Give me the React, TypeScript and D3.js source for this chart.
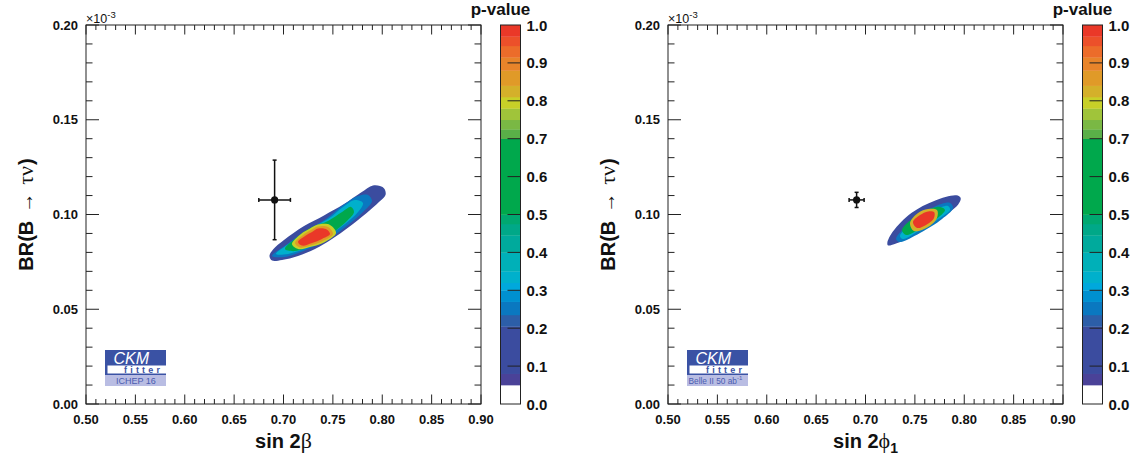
import React from "react";
import * as d3 from "d3";

type Pt = [number, number];

// ---------- axes ----------
const xDomain: [number, number] = [0.5, 0.9];
const yDomain: [number, number] = [0, 0.2];
const zDomain: [number, number] = [0, 1];

// ---------- colour palette (p-value bands) ----------
const bandEdges = [0, 0.05, 0.08, 0.205, 0.235, 0.27, 0.3, 0.32, 0.35, 0.4, 0.445, 0.475, 0.5, 0.7, 0.725, 0.75, 0.78, 0.81, 0.84, 0.88, 0.915, 0.945, 0.97, 1.0];
const bandColors = ["#ffffff", "#4a4298", "#3b4c9f", "#2c5ea8", "#0a78c0", "#0090d0", "#00a8dc", "#00b0cc", "#00b0b8", "#00aa9c", "#00a888", "#00a870", "#00a84c", "#5aaf48", "#7ab844", "#a0c43a", "#c8d028", "#d4b02a", "#e09a28", "#e8842a", "#ec6c2a", "#ec502a", "#ea3828"];

// ---------- left panel contours (sin 2beta, BR x1e-3) ----------
const leftOuter: Pt[] = [[0.7906, 0.1153], [0.7977, 0.115], [0.8023, 0.1135], [0.8033, 0.1103], [0.7967, 0.1066], [0.7836, 0.1005], [0.7663, 0.0934], [0.7491, 0.0871], [0.7319, 0.0818], [0.7147, 0.0781], [0.6985, 0.076], [0.6884, 0.0757], [0.6858, 0.0781], [0.6894, 0.0815], [0.7005, 0.0865], [0.7208, 0.0939], [0.741, 0.0995], [0.7613, 0.1055], [0.7785, 0.1116]];
const leftBlue: Pt[] = [[0.6884, 0.0781], [0.7025, 0.0839], [0.7228, 0.0913], [0.743, 0.0976], [0.7603, 0.105], [0.7755, 0.1098], [0.7856, 0.1103], [0.7896, 0.1071], [0.7805, 0.1013], [0.7653, 0.0945], [0.7471, 0.0876], [0.7248, 0.0818], [0.7015, 0.0776]];
const leftCyan: Pt[] = [[0.6924, 0.0792], [0.7066, 0.085], [0.7248, 0.0918], [0.7451, 0.0976], [0.7603, 0.104], [0.7724, 0.1077], [0.7805, 0.1061], [0.7755, 0.1013], [0.7623, 0.095], [0.7451, 0.0887], [0.7248, 0.0828], [0.7046, 0.0792]];
const leftGreen: Pt[] = [[0.7015, 0.0818], [0.7127, 0.0876], [0.7289, 0.0934], [0.7451, 0.0966], [0.7593, 0.1013], [0.7684, 0.104], [0.7714, 0.1013], [0.7643, 0.0966], [0.7491, 0.0902], [0.7289, 0.0839], [0.7117, 0.0807]];
const leftYellow: Pt[] = [[0.7086, 0.0844], [0.7177, 0.0897], [0.7268, 0.0926], [0.7349, 0.0947], [0.7471, 0.0945], [0.7532, 0.0902], [0.742, 0.0855], [0.7289, 0.0831], [0.7147, 0.0818]];
const leftOrange: Pt[] = [[0.7117, 0.085], [0.7198, 0.0892], [0.7279, 0.0918], [0.7349, 0.0937], [0.7451, 0.0934], [0.7501, 0.0897], [0.74, 0.086], [0.7289, 0.0839], [0.7167, 0.0826]];
const leftRed: Pt[] = [[0.7147, 0.0855], [0.7218, 0.0887], [0.7289, 0.0908], [0.7349, 0.0926], [0.743, 0.0923], [0.7471, 0.0897], [0.739, 0.0871], [0.7289, 0.085], [0.7187, 0.0836]];

// ---------- right panel contours (sin 2phi1, Belle II 50 ab-1) ----------
const rightOuter: Pt[] = [[0.7221, 0.085], [0.7279, 0.0911], [0.7464, 0.1008], [0.7701, 0.1073], [0.792, 0.1101], [0.7964, 0.1087], [0.7937, 0.1052], [0.7734, 0.0973], [0.7498, 0.0893], [0.7296, 0.0844], [0.7228, 0.0837]];
const rightBlue: Pt[] = [[0.7309, 0.0871], [0.7471, 0.0966], [0.7694, 0.104], [0.7856, 0.1061], [0.7886, 0.1034], [0.7775, 0.0976], [0.7552, 0.0902], [0.7349, 0.0855]];
const rightCyan: Pt[] = [[0.7349, 0.0887], [0.7501, 0.0966], [0.7704, 0.1024], [0.7836, 0.1045], [0.7856, 0.1024], [0.7755, 0.0982], [0.7552, 0.0918], [0.738, 0.0871]];
const rightGreen: Pt[] = [[0.737, 0.0918], [0.7471, 0.0976], [0.7603, 0.1018], [0.7755, 0.104], [0.7805, 0.1024], [0.7704, 0.0971], [0.7532, 0.0918], [0.741, 0.0892]];
const rightYellow: Pt[] = [[0.7451, 0.0955], [0.7532, 0.1008], [0.7633, 0.1029], [0.7724, 0.1024], [0.7724, 0.0982], [0.7633, 0.0934], [0.7491, 0.0913]];
const rightRed: Pt[] = [[0.7481, 0.096], [0.7552, 0.0997], [0.7633, 0.1016], [0.7694, 0.1013], [0.7694, 0.0982], [0.7613, 0.0945], [0.7522, 0.0929]];

const leftLevels = [0.1, 0.25, 0.33, 0.55, 0.79, 0.86, 0.98];
const leftContours = [leftOuter, leftBlue, leftCyan, leftGreen, leftYellow, leftOrange, leftRed];
const rightLevels = [0.1, 0.25, 0.33, 0.55, 0.82, 0.98];
const rightContours = [rightOuter, rightBlue, rightCyan, rightGreen, rightYellow, rightRed];

// ---------- measurement points ----------
const measX = [0.691, 0.691];
const measXErr = [0.016, 0.0076];
const measY = [0.1077, 0.1077];
const measYErr = [0.021, 0.004];

const logoTexts = ["ICHEP 16", "Belle II 50 ab"];

const colorAt = (v: number) => bandColors[Math.max(0, Math.min(bandColors.length - 1, d3.bisectRight(bandEdges, v) - 1))];

const SANS = "'Liberation Sans', Arial, Helvetica, sans-serif";
const SERIF = "'Liberation Serif', 'DejaVu Serif', serif";
const TOP = 25, BOTTOM = 404, PW = 395;
const AX = "#222";

function Logo({ x0, label, sup }: { x0: number; label: string; sup: boolean }) {
  const y0 = 350;
  return (
    <g>
      <rect x={x0} y={y0} width={61} height={25} fill="#3a52a4" />
      <rect x={x0 + 2.5} y={y0 + 15.5} width={58.5} height={8} fill="#ffffff" />
      <rect x={x0} y={y0 + 25} width={61} height={11} fill="#b9bde3" />
      <text x={x0 + 8.5} y={y0 + 14} fill="#fff" fontFamily={SANS} fontStyle="italic" fontSize={16}>CKM</text>
      <text x={x0 + 19} y={y0 + 23} fill="#3a52a4" fontFamily={SANS} fontWeight="bold" fontSize={9} letterSpacing={3.2}>fitter</text>
      <text x={sup ? x0 + 1.5 : x0 + 11} y={y0 + 33.5} fill="#4a5cb0" fontFamily={SANS} fontSize={sup ? 8.3 : 9}>
        {label}
        {sup && <tspan fontSize={6} dy={-3.5}>-1</tspan>}
      </text>
    </g>
  );
}

function Panel({ left, contours, levels, idx, xTitle }: { left: number; contours: Pt[][]; levels: number[]; idx: number; xTitle: React.ReactNode }) {
  const x = d3.scaleLinear().domain(xDomain).range([left, left + PW]);
  const y = d3.scaleLinear().domain(yDomain).range([BOTTOM, TOP]);
  const z = d3.scaleLinear().domain(zDomain).range([BOTTOM, TOP]);
  const line = d3.line<Pt>().x(d => x(d[0])).y(d => y(d[1])).curve(d3.curveCatmullRomClosed.alpha(0.5));
  const xMaj = x.ticks(8);
  const xMin = x.ticks(40);
  const yMaj = y.ticks(4);
  const yMin = y.ticks(20);
  const fx = d3.format(".2f");
  const cbL = left + PW + 19.5;
  const cbW = 20;
  const zt = d3.range(0, 11).map(i => i / 10);

  const px = x(measX[idx]);
  const py = y(measY[idx]);
  const ex1 = x(measX[idx] - measXErr[idx]);
  const ex2 = x(measX[idx] + measXErr[idx]);
  const ey1 = y(measY[idx] - measYErr[idx]);
  const ey2 = y(measY[idx] + measYErr[idx]);

  return (
    <g>
      {contours.map((c, i) => (
        <path key={i} d={line(c) || ""} fill={colorAt(levels[i])} stroke="none" />
      ))}
      <g stroke="#111" strokeWidth={1.5}>
        <line x1={ex1} x2={ex2} y1={py} y2={py} />
        <line x1={px} x2={px} y1={ey1} y2={ey2} />
        <line x1={ex1} x2={ex1} y1={py - 2} y2={py + 2} />
        <line x1={ex2} x2={ex2} y1={py - 2} y2={py + 2} />
        <line x1={px - 2} x2={px + 2} y1={ey1} y2={ey1} />
        <line x1={px - 2} x2={px + 2} y1={ey2} y2={ey2} />
      </g>
      <circle cx={px} cy={py} r={3.6} fill="#111" />

      <rect x={left} y={TOP} width={PW} height={BOTTOM - TOP} fill="none" stroke={AX} strokeWidth={1} />
      <g stroke={AX} strokeWidth={1}>
        {xMin.map((t, i) => {
          const major = xMaj.some(m => Math.abs(m - t) < 1e-9);
          const L = major ? 9.5 : 5;
          return (
            <g key={"xt" + i}>
              <line x1={x(t)} x2={x(t)} y1={BOTTOM} y2={BOTTOM - L} />
              <line x1={x(t)} x2={x(t)} y1={TOP} y2={TOP + L} />
            </g>
          );
        })}
        {yMin.map((t, i) => {
          const major = yMaj.some(m => Math.abs(m - t) < 1e-9);
          const L = major ? 13 : 6.5;
          return (
            <g key={"yt" + i}>
              <line x1={left} x2={left + L} y1={y(t)} y2={y(t)} />
              <line x1={left + PW} x2={left + PW - L} y1={y(t)} y2={y(t)} />
            </g>
          );
        })}
      </g>
      <g fontFamily={SANS} fontWeight="bold" fontSize={13} fill="#111">
        {xMaj.map((t, i) => (
          <text key={"xl" + i} x={x(t)} y={BOTTOM + 20} textAnchor="middle">{fx(t)}</text>
        ))}
        {yMaj.map((t, i) => (
          <text key={"yl" + i} x={left - 8} y={y(t) + 4.5} textAnchor="end">{fx(t)}</text>
        ))}
      </g>
      <text x={left} y={TOP - 2} fontFamily={SANS} fontSize={12.5} fill="#111">
        ×10<tspan fontSize={9.5} dy={-5}>-3</tspan>
      </text>
      <text x={left + PW / 2} y={448} textAnchor="middle" fontFamily={SANS} fontWeight="bold" fontSize={20} fill="#111">
        {xTitle}
      </text>
      <text transform={`translate(${left - 53},${(TOP + BOTTOM) / 2}) rotate(-90)`} textAnchor="middle" fontFamily={SANS} fontWeight="bold" fontSize={20} fill="#111">
        <tspan>BR(B</tspan>
        <tspan fontFamily={SERIF} fontWeight="normal" dx={8}>→</tspan>
        <tspan fontFamily={SERIF} fontWeight="normal" fontSize={22} dx={8}>τν</tspan>
        <tspan fontFamily={SANS} fontWeight="bold" fontSize={20} dx={1}>{")"}</tspan>
      </text>

      <Logo x0={left + 19} label={logoTexts[idx]} sup={idx === 1} />

      {bandColors.map((c, i) => (
        <rect key={"cb" + i} x={cbL} width={cbW} y={z(bandEdges[i + 1])} height={z(bandEdges[i]) - z(bandEdges[i + 1]) + 0.3} fill={c} />
      ))}
      <rect x={cbL} y={TOP} width={cbW} height={BOTTOM - TOP} fill="none" stroke={AX} strokeWidth={1} />
      <g stroke={AX} strokeWidth={1}>
        {zt.slice(1, 10).map((t, i) => (
          <line key={"zt" + i} x1={cbL + cbW - 13} x2={cbL + cbW} y1={z(t)} y2={z(t)} />
        ))}
      </g>
      <g fontFamily={SANS} fontWeight="bold" fontSize={15} fill="#111">
        {zt.map((t, i) => (
          <text key={"zl" + i} x={cbL + cbW + 6} y={z(t) + 5.5}>{t.toFixed(1)}</text>
        ))}
      </g>
      <text x={cbL} y={15} textAnchor="middle" fontFamily={SANS} fontWeight="bold" fontSize={17} fill="#111">p-value</text>
    </g>
  );
}

export default function App() {
  return (
    <svg width={1135} height={464} viewBox="0 0 1135 464" style={{ display: "block", position: "absolute", left: 0, top: 0, background: "#fff" }}>
      <rect width={1135} height={464} fill="#fff" />
      <Panel
        left={86}
        contours={leftContours}
        levels={leftLevels}
        idx={0}
        xTitle={<><tspan>sin 2</tspan><tspan fontFamily={SERIF} fontWeight="normal" fontSize={22}>β</tspan></>}
      />
      <Panel
        left={668}
        contours={rightContours}
        levels={rightLevels}
        idx={1}
        xTitle={<><tspan>sin 2</tspan><tspan fontFamily={SERIF} fontWeight="normal" fontSize={22}>ϕ</tspan><tspan fontSize={14} dy={5}>1</tspan></>}
      />
    </svg>
  );
}
